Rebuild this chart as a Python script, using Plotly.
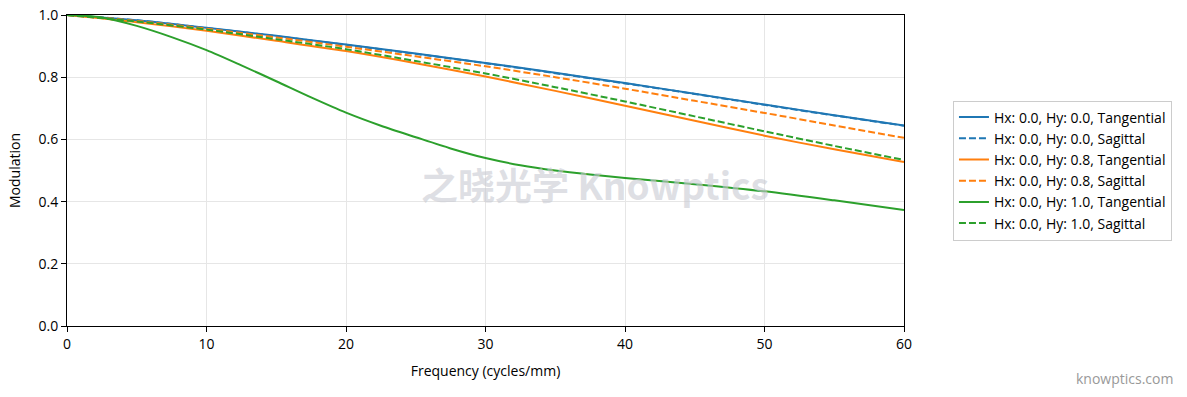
import plotly.graph_objects as go

freq = [0, 5, 10, 15, 20, 25, 30, 35, 40, 45, 50, 55, 60]
blue_t = [1.0, 0.983, 0.959, 0.933, 0.905, 0.876, 0.846, 0.814, 0.781, 0.747, 0.712, 0.678, 0.645]
blue_s = [1.0, 0.983, 0.958, 0.932, 0.904, 0.875, 0.845, 0.813, 0.780, 0.746, 0.711, 0.677, 0.644]
orange_t = [1.0, 0.977, 0.949, 0.917, 0.884, 0.845, 0.802, 0.756, 0.708, 0.660, 0.612, 0.568, 0.527]
orange_s = [1.0, 0.981, 0.956, 0.928, 0.898, 0.867, 0.835, 0.800, 0.763, 0.724, 0.685, 0.645, 0.605]
green_s = [1.0, 0.979, 0.953, 0.922, 0.890, 0.852, 0.812, 0.768, 0.722, 0.674, 0.626, 0.579, 0.534]

freq_g = [0, 2.5, 5, 7.5, 10, 12.5, 15, 17.5, 20, 22.5, 25, 27.5, 30, 32.5, 35, 37.5, 40, 45, 50, 55, 60]
green_t = [1.0, 0.992, 0.965, 0.929, 0.887, 0.838, 0.787, 0.735, 0.686, 0.644, 0.607, 0.571, 0.540,
           0.517, 0.500, 0.487, 0.476, 0.456, 0.433, 0.404, 0.373]

names = [
    "Hx: 0.0, Hy: 0.0, Tangential",
    "Hx: 0.0, Hy: 0.0, Sagittal",
    "Hx: 0.0, Hy: 0.8, Tangential",
    "Hx: 0.0, Hy: 0.8, Sagittal",
    "Hx: 0.0, Hy: 1.0, Tangential",
    "Hx: 0.0, Hy: 1.0, Sagittal",
]
colors = ["#1f77b4", "#1f77b4", "#ff7f0e", "#ff7f0e", "#2ca02c", "#2ca02c"]
dashes = ["solid", "7px,3px", "solid", "7px,3px", "solid", "7px,3px"]
xs = [freq, freq, freq, freq, freq_g, freq]
ys = [blue_t, blue_s, orange_t, orange_s, green_t, green_s]

FONT = "Open Sans, Noto Sans, sans-serif"

fig = go.Figure()
for x, y, n, c, d in zip(xs, ys, names, colors, dashes):
    fig.add_trace(go.Scatter(x=x, y=y, mode="lines", name=n,
                             line=dict(color=c, width=2, dash=d, shape="spline", smoothing=0.8)))

axis_common = dict(showline=True, linecolor="black", linewidth=1, mirror=True,
                   ticks="outside", tickcolor="black", ticklen=5, automargin=False,
                   showgrid=True, gridcolor="#e6e6e6", gridwidth=1, zeroline=False,
                   tickfont=dict(size=14, color="black", family=FONT))

fig.update_xaxes(range=[0, 60], tickmode="array", tickvals=[0, 10, 20, 30, 40, 50, 60],
                 title=dict(text="Frequency (cycles/mm)", font=dict(size=14, color="black", family=FONT), standoff=14),
                 **axis_common)
fig.update_yaxes(range=[0, 1.0], tickmode="array", tickvals=[0, 0.2, 0.4, 0.6, 0.8, 1.0],
                 tickformat=".1f",
                 title=dict(text="Modulation", font=dict(size=14, color="black", family=FONT), standoff=14),
                 **axis_common)

fig.update_layout(
    width=1187, height=397,
    margin=dict(l=67, r=283, t=15, b=71, autoexpand=False),
    plot_bgcolor="white", paper_bgcolor="white",
    font=dict(family=FONT, size=14, color="black"),
    legend=dict(x=1.0585, y=0.5, xanchor="left", yanchor="middle",
                bordercolor="#cccccc", borderwidth=1, bgcolor="white",
                font=dict(size=14, family=FONT, color="black"),
                tracegroupgap=0, itemwidth=30),
    showlegend=True,
)

fig.add_annotation(text="<b>之晓光学 Knowptics</b>", xref="paper", yref="paper",
                   x=0.631, y=0.457, xanchor="center", yanchor="middle", showarrow=False,
                   font=dict(size=37, color="rgba(200,202,210,0.6)",
                             family="Noto Sans CJK SC, Noto Sans, sans-serif"))
fig.add_annotation(text="knowptics.com", xref="paper", yref="paper",
                   x=1.324, y=-0.17, xanchor="right", yanchor="middle", showarrow=False,
                   font=dict(size=14, color="#999999", family=FONT))

fig.write_html("out.html")
